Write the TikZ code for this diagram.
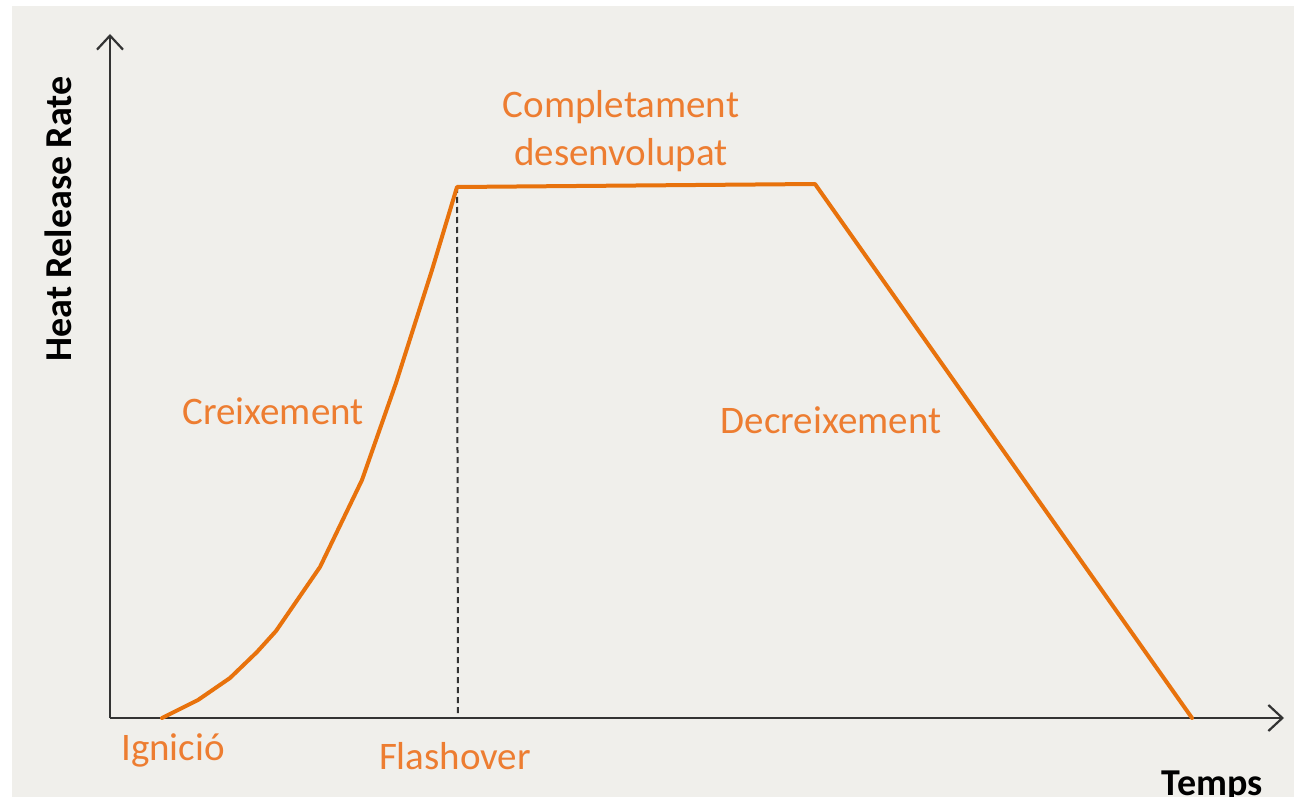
\documentclass[tikz,border=0pt]{standalone}
\usepackage{fontspec}
\setmainfont{Carlito}
\usetikzlibrary{arrows.meta}
\definecolor{bgc}{HTML}{F0EFEB}
\definecolor{orng}{HTML}{ED7D31}
\definecolor{orln}{HTML}{E8720C}
\definecolor{axc}{HTML}{333333}
\tikzset{
  lbl/.style={text=orng, font=\fontsize{39}{48}\selectfont, inner sep=0pt, align=center},
  axlbl/.style={text=black, font=\fontsize{38}{44}\selectfont\bfseries, inner sep=0pt},
  axis/.style={draw=axc, line width=2.8pt, -{Straight Barb[length=14pt,width=26pt,line width=2.2pt]}},
  curve/.style={draw=orln, line width=4pt, line join=round, line cap=round},
  guide/.style={draw=axc, line width=2pt, dash pattern=on 6pt off 4pt}
}
\begin{document}
\begin{tikzpicture}[x=1pt,y=-1pt]
\useasboundingbox (0,0) rectangle (1294,797);
\fill[white] (0,0) rectangle (1294,797);
\fill[bgc] (12,6) rectangle (1294,797);
% axes
\coordinate (O) at (110,718);
\coordinate (Ytop) at (110,34);
\coordinate (Xend) at (1284,718);
\draw[axis] (O) -- (Ytop);
\draw[axis] (O) -- (Xend);
% key points
\coordinate (ig) at (162,718);
\coordinate (fo) at (457,187);
\coordinate (fe) at (815,184);
\coordinate (dend) at (1192,718);
\coordinate (foB) at (458,718);
\draw[guide] (fo) -- (foB);
\draw[curve] (ig) -- (198,700) -- (230,678) -- (257,652) -- (276,631) -- (320,567) -- (362,480) -- (396,383) -- (432,270) -- (fo) -- (fe) -- (dend);
% labels
\node[lbl] (comp) at (621,131) {Completament\\desenvolupat};
\node[lbl] (creix) at (273,411) {Creixement};
\node[lbl] (decr) at (831,420) {Decreixement};
\node[lbl] (ign) at (173,750) {Ignició};
\node[lbl] (flash) at (455,756) {Flashover};
\node[axlbl] (temps) at (1212,786) {Temps};
\node[axlbl, rotate=90] (hrr) at (58,219) {Heat Release Rate};
\end{tikzpicture}
\end{document}
